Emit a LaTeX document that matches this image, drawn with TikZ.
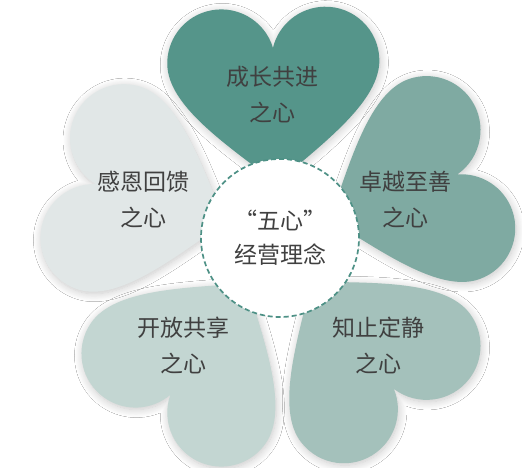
\documentclass[tikz,border=0pt]{standalone}
\usepackage{fontspec}
\newfontfamily\cjk{Noto Sans CJK SC}
\usetikzlibrary{shadows.blur}
\definecolor{hA}{HTML}{55958A}
\definecolor{hB}{HTML}{7FAAA2}
\definecolor{hC}{HTML}{A4C1BB}
\definecolor{hD}{HTML}{C3D6D2}
\definecolor{hE}{HTML}{E1E7E7}
\definecolor{txt}{HTML}{404040}
\definecolor{ring}{HTML}{4E9186}
\tikzset{
  heartshape/.style={fill=#1, draw=none,
    blur shadow={shadow xshift=1pt, shadow yshift=-2pt, shadow blur radius=8pt, shadow blur steps=12, shadow opacity=22}},
  lbl/.style={font=\cjk\fontsize{23}{36}\selectfont, text=txt, align=center, inner sep=0pt},
  hub/.style={circle, minimum size=158pt, fill=white, draw=ring, line width=1.7pt,
    dash pattern=on 5pt off 3pt, font=\cjk\fontsize{23}{34}\selectfont, text=txt, align=center}
}
\begin{document}
\begin{tikzpicture}[x=1pt,y=1pt]
\useasboundingbox (0,0) rectangle (522,468);
\fill[white] (0,0) rectangle (522,468);
\coordinate (O) at (278,230);
\foreach \a/\c in {91.5/hA, 19.5/hB, -52.5/hC, -124.5/hD, 163.5/hE}{
  \begin{scope}[shift={(O)}]
  \begin{scope}[shift={(\a:190)}, rotate=\a-90]
    \path[heartshape=\c] (0,0) arc[start angle=15, end angle=180, radius=54pt]
      .. controls (-106,-55) and (-50,-95) .. (0,-135)
      .. controls (50,-95) and (106,-55) .. (106,-14)
      arc[start angle=0, end angle=165, radius=54pt] -- cycle;
  \end{scope}
  \end{scope}
}
\node[hub] (hubnode) at (280,230) {“五心”\\经营理念};
\node[lbl] (t1) at (272,373) {成长共进\\之心};
\node[lbl] (t2) at (405,268) {卓越至善\\之心};
\node[lbl] (t3) at (378,123) {知止定静\\之心};
\node[lbl] (t4) at (183,123) {开放共享\\之心};
\node[lbl] (t5) at (143,268) {感恩回馈\\之心};
\end{tikzpicture}
\end{document}
